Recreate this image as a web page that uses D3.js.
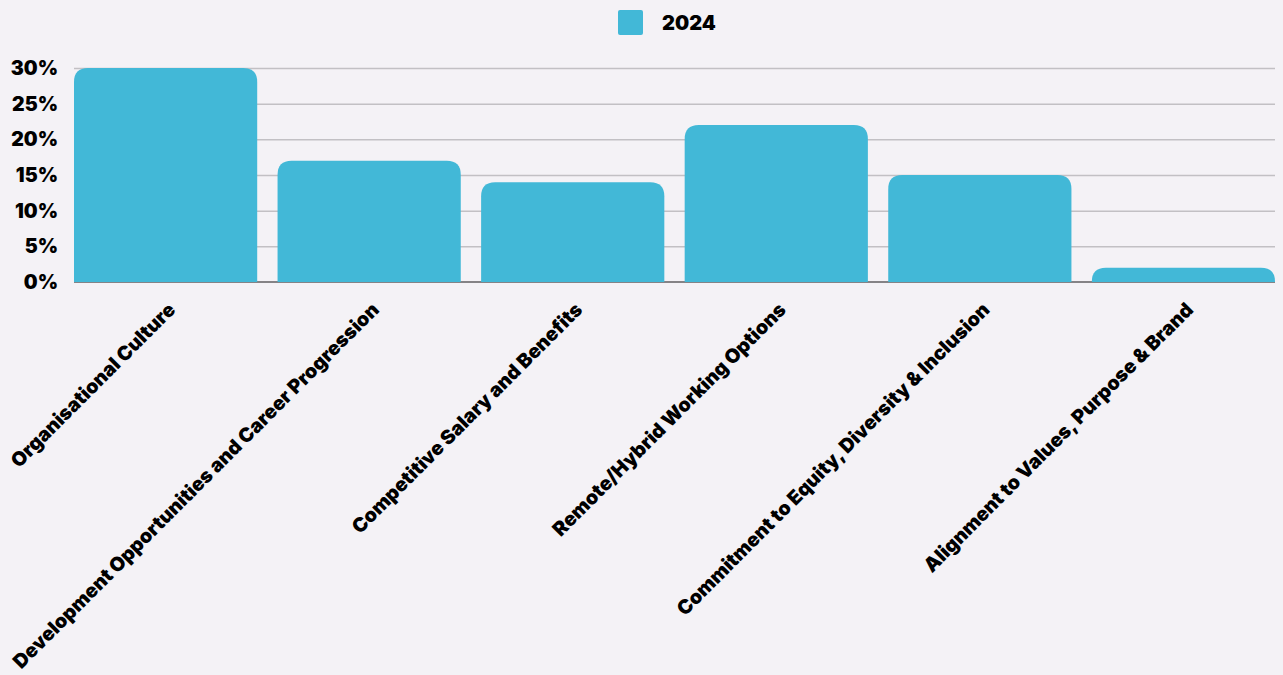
<!DOCTYPE html>
<html>
<head>
<meta charset="utf-8">
<script src="https://cdn.jsdelivr.net/npm/d3@7"></script>
<style>
  html, body { margin: 0; padding: 0; background: #f4f2f6; }
  svg { display: block; font-family: "Inter", "Liberation Sans", sans-serif; }
</style>
</head>
<body>
<div id="chart"></div>
<script>
// Data
const categories = [
  "Organisational Culture",
  "Development Opportunities and Career Progression",
  "Competitive Salary and Benefits",
  "Remote/Hybrid Working Options",
  "Commitment to Equity, Diversity & Inclusion",
  "Alignment to Values, Purpose & Brand"
];
const values2024 = [30, 17, 14, 22, 15, 2];
const yTicks = [0, 5, 10, 15, 20, 25, 30];
const seriesName = "2024";

// Config
const width = 1283, height = 675;
const margin = { top: 68, right: 8, bottom: 393, left: 74 };
const barColor = "#42b8d7";
const radius = 14;

const svg = d3.select("#chart").append("svg")
  .attr("width", width)
  .attr("height", height);

svg.append("rect").attr("width", width).attr("height", height).attr("fill", "#f4f2f6");

const x = d3.scaleBand()
  .domain(categories)
  .range([margin.left, width - margin.right])
  .paddingInner(0.1)
  .paddingOuter(0);

const y = d3.scaleLinear()
  .domain([0, 30])
  .range([height - margin.bottom, margin.top]);

// Grid lines
svg.append("g")
  .selectAll("line")
  .data(yTicks.filter(d => d > 0))
  .join("line")
  .attr("x1", margin.left)
  .attr("x2", width - margin.right)
  .attr("y1", d => y(d) + 0.5)
  .attr("y2", d => y(d) + 0.5)
  .attr("stroke", "#c2c0c4")
  .attr("stroke-width", 1.5);

// Baseline
svg.append("line")
  .attr("x1", margin.left)
  .attr("x2", width - margin.right)
  .attr("y1", y(0))
  .attr("y2", y(0))
  .attr("stroke", "#858386")
  .attr("stroke-width", 2);

// Y tick labels
svg.append("g")
  .selectAll("text")
  .data(yTicks)
  .join("text")
  .attr("x", margin.left - 16)
  .attr("y", d => y(d))
  .attr("dy", "0.36em")
  .attr("text-anchor", "end")
  .style("font-size", "19.5px")
  .style("font-weight", 900)
  .attr("fill", "#000")
  .text(d => d + "%");

// Bars with rounded tops
function topRounded(x0, y0, w, h, r) {
  r = Math.min(r, h, w / 2);
  return `M${x0},${y0 + h} V${y0 + r} Q${x0},${y0} ${x0 + r},${y0} H${x0 + w - r} Q${x0 + w},${y0} ${x0 + w},${y0 + r} V${y0 + h} Z`;
}

svg.append("g")
  .selectAll("path")
  .data(categories.map((c, i) => ({ c, v: values2024[i] })))
  .join("path")
  .attr("d", d => topRounded(x(d.c), y(d.v), x.bandwidth(), y(0) - y(d.v), radius))
  .attr("fill", barColor);

// X labels (rotated)
svg.append("g")
  .selectAll("text")
  .data(categories)
  .join("text")
  .attr("transform", d => `translate(${x(d) + x.bandwidth() / 2 + 6},${y(0) + 24}) rotate(-45)`)
  .attr("text-anchor", "end")
  .attr("dy", "0.36em")
  .style("font-size", "19.6px")
  .style("font-weight", 900)
  .attr("fill", "#000")
  .text(d => d);

// Legend
const legend = svg.append("g");
legend.append("rect")
  .attr("x", 618).attr("y", 10)
  .attr("width", 25).attr("height", 25)
  .attr("rx", 2)
  .attr("fill", barColor);
legend.append("text")
  .attr("x", 662).attr("y", 23)
  .attr("dy", "0.36em")
  .style("font-size", "20px")
  .style("font-weight", 900)
  .attr("fill", "#000")
  .text(seriesName);
</script>
</body>
</html>
